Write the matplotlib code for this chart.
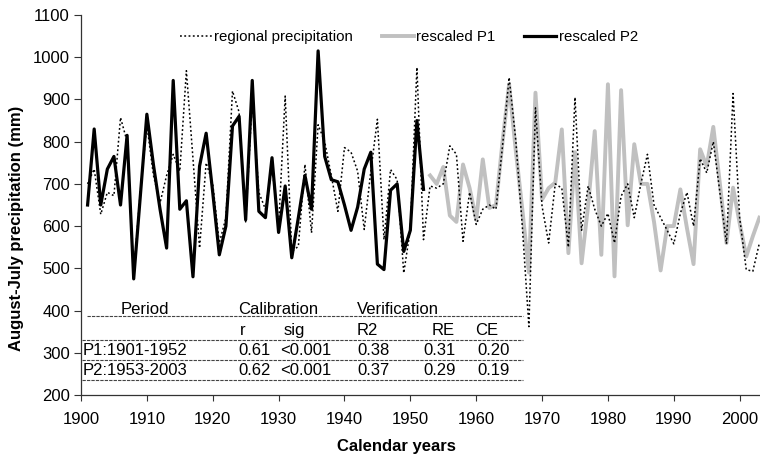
import numpy as np
import matplotlib.pyplot as plt
from matplotlib.lines import Line2D

plt.rcParams['font.family'] = ['Liberation Sans', 'DejaVu Sans']

# regional August-July precipitation (mm), 1901-2003
years = np.arange(1901, 2004)
regional = [700, 735, 628, 680, 672, 857, 800, 490, 680, 840,
            720, 655, 720, 770, 730, 968, 760, 548, 750, 700,
            560, 620, 920, 870, 610, 900, 680, 640, 740, 600,
            908, 540, 552, 746, 584, 840, 800, 720, 635, 786,
            775, 730, 592, 730, 853, 568, 734, 710, 489, 592,
            976, 568, 695, 690, 700, 790, 770, 564, 680, 604,
            640, 650, 640, 790, 952, 805, 600, 362, 880, 647,
            560, 700, 690, 550, 905, 590, 695, 640, 600, 630,
            560, 671, 700, 620, 700, 770, 650, 620, 590, 558,
            630, 680, 600, 760, 726, 800, 680, 558, 914, 620,
            497, 493, 560]

# reconstruction calibrated on 1953-2003, shown for 1901-1952
p2_years = np.arange(1901, 1953)
p2 = [650, 830, 650, 735, 765, 650, 815, 475, 670, 865,
      745, 640, 548, 945, 640, 660, 480, 742, 820, 680,
      532, 600, 837, 860, 615, 945, 635, 620, 762, 585,
      695, 525, 620, 720, 640, 1015, 765, 710, 705, 650,
      590, 645, 735, 775, 510, 497, 685, 700, 540, 590,
      850, 687]

# reconstruction calibrated on 1901-1952, shown for 1953-2003
p1_years = np.arange(1953, 2004)
p1 = [720, 700, 740, 625, 610, 746, 690, 615, 758, 643,
      650, 800, 936, 780, 640, 490, 916, 663, 690, 703,
      829, 536, 775, 512, 650, 825, 532, 936, 481, 922,
      602, 794, 700, 700, 610, 495, 600, 600, 687, 595,
      510, 782, 742, 835, 700, 560, 691, 607, 528, 576,
      620]

# calibration / verification statistics
col_heads = ['r', 'sig', 'R2', 'RE', 'CE']
periods = ['P1:1901-1952', 'P2:1953-2003']
r_vals = ['0.61', '0.62']
sig_vals = ['<0.001', '<0.001']
r2_vals = ['0.38', '0.37']
re_vals = ['0.31', '0.29']
ce_vals = ['0.20', '0.19']

W, H = 760, 457
fig = plt.figure(figsize=(W / 100, H / 100), dpi=100)
ax = fig.add_axes([81 / W, 62 / H, 685 / W, 380 / H])


def fx(px):
    return px / W


def fy(py):
    return 1 - py / H


ax.plot(p1_years, p1, color='#c0c0c0', lw=2.8, label='rescaled P1', zorder=2)
ax.plot(p2_years, p2, color='black', lw=2.3, label='rescaled P2', zorder=3)
ax.plot(years, regional, color='black', lw=1.1, ls=(0, (1.2, 1.6)),
        label='regional precipitation', zorder=4)

ax.set_xlim(1900, 2004)
ax.set_ylim(200, 1100)
ax.set_xticks(np.arange(1900, 2001, 10))
ax.set_yticks(np.arange(200, 1101, 100))
ax.tick_params(axis='x', labelsize=12, length=4, pad=8, color='#333333')
ax.tick_params(axis='y', labelsize=12, length=5, pad=3, color='#333333')
for s in ['top', 'right']:
    ax.spines[s].set_visible(False)
for s in ['left', 'bottom']:
    ax.spines[s].set_color('#333333')
    ax.spines[s].set_linewidth(0.9)

handles, labels = ax.get_legend_handles_labels()
order = [2, 0, 1]
ax.legend([handles[i] for i in order], [labels[i] for i in order],
          ncol=3, frameon=False, fontsize=10.8, loc='upper left',
          bbox_to_anchor=(fx(180), fy(30)), bbox_transform=fig.transFigure,
          borderpad=0, borderaxespad=0, handlelength=2.15,
          handletextpad=0.15, columnspacing=1.9)

fig.text(fx(396), fy(446), 'Calendar years', ha='center', va='center',
         fontsize=12, fontweight='bold')
fig.text(fx(17), fy(228), 'August-July precipitation (mm)', rotation=90,
         ha='center', va='center', fontsize=12, fontweight='bold')

# statistics table in the lower-left corner
tfs = 12
fig.text(fx(145), fy(314), 'Period', ha='center', va='baseline', fontsize=tfs)
fig.text(fx(238), fy(314), 'Calibration', ha='left', va='baseline', fontsize=tfs)
fig.text(fx(357), fy(314), 'Verification', ha='left', va='baseline', fontsize=tfs)

head_x = [240, 284, 357, 432, 475]
for x, t in zip(head_x, col_heads):
    fig.text(fx(x), fy(335), t, ha='left', va='baseline', fontsize=tfs)

row_base = [355, 375]
cell_x = [83, 238, 280, 357, 423, 477]
for i in range(2):
    row = [periods[i], r_vals[i], sig_vals[i], r2_vals[i], re_vals[i], ce_vals[i]]
    for x, t in zip(cell_x, row):
        fig.text(fx(x), fy(row_base[i]), t, ha='left', va='baseline', fontsize=tfs)

for py, x0 in [(316, 87), (340, 82), (360, 82), (380, 82)]:
    fig.add_artist(Line2D([fx(x0), fx(523)], [fy(py), fy(py)],
                          color='#444444', lw=0.8, ls=(0, (3, 1))))

fig.savefig('out.png', dpi=100)
